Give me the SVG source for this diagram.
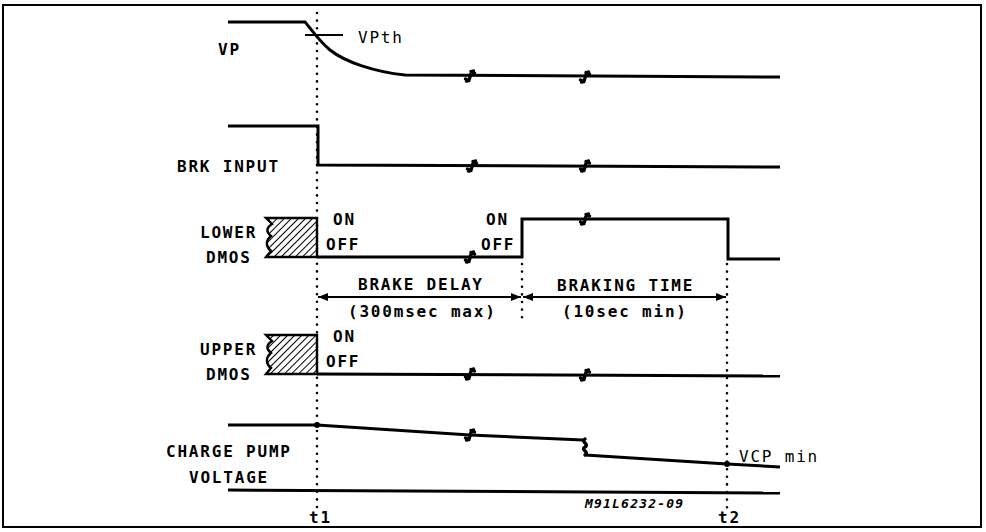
<svg xmlns="http://www.w3.org/2000/svg" width="986" height="532" viewBox="0 0 986 532">
<style>
.sig{fill:none;stroke:#000;stroke-width:3;stroke-linejoin:miter}
.thin{fill:none;stroke:#000;stroke-width:2}
.dot{fill:none;stroke:#000;stroke-width:2.6;stroke-linecap:round;stroke-dasharray:0 7.6}
.lbl{font-family:"DejaVu Sans Mono","Liberation Mono",monospace;font-size:16px;font-weight:bold;letter-spacing:1.8px;fill:#000}
.reg{font-weight:normal}
.code{font-family:"DejaVu Sans Mono","Liberation Mono",monospace;font-size:13px;font-weight:bold;font-style:italic;letter-spacing:1.2px;fill:#000}
.brk{fill:none;stroke:#000;stroke-width:3.4;stroke-linecap:round}
.hatch{fill:url(#hp);stroke:#000;stroke-width:2.4}
</style>
<defs>
<pattern id="hp" patternUnits="userSpaceOnUse" width="5" height="5" patternTransform="rotate(45)">
<line x1="0" y1="0" x2="0" y2="5" stroke="#000" stroke-width="2"/>
</pattern>
<path id="bm" d="M-3.5,5 Q-1,5.5 0,1 Q1,-4.5 3.5,-5 M-4.5,3 L-1,4.5 M1,-4.5 L4.5,-3"/>
<marker id="ar" viewBox="0 0 10 8" refX="10" refY="4" markerWidth="10" markerHeight="8" markerUnits="userSpaceOnUse" orient="auto-start-reverse">
<path d="M0,0 L10,4 L0,8 Z" fill="#000"/>
</marker>
</defs>
<rect x="3" y="5" width="978" height="522" fill="#fff" stroke="#000" stroke-width="2"/>

<g id="connectors">
<line class="dot" x1="317" y1="13" x2="317" y2="508"/>
<line class="dot" x1="522" y1="264" x2="522" y2="322"/>
<line class="dot" x1="727" y1="264" x2="727" y2="508"/>
<line class="thin" x1="318" y1="297" x2="521" y2="297" marker-start="url(#ar)" marker-end="url(#ar)"/>
<line class="thin" x1="523" y1="297" x2="726" y2="297" marker-start="url(#ar)" marker-end="url(#ar)"/>
</g>

<g id="vp">
<path class="sig" d="M228,22 L305,22 C312,30 318,40 330,50 C345,62 375,72 405,75 L780,77"/>
<line class="thin" x1="305" y1="35" x2="343" y2="35"/>
<text class="lbl" x="218" y="55">VP</text>
<text class="lbl reg" x="358" y="43" letter-spacing="0.5">VPth</text>
<use href="#bm" x="470" y="76" class="brk"/>
<use href="#bm" x="585" y="77" class="brk"/>
</g>

<g id="brk-input">
<path class="sig" d="M228,126 L318,126 L318,165 L780,167"/>
<text class="lbl" x="177" y="172">BRK INPUT</text>
<use href="#bm" x="472" y="166" class="brk"/>
<use href="#bm" x="585" y="166" class="brk"/>
</g>

<g id="lower-dmos">
<path class="hatch" d="M317,218 L266,218 L272,224 C266,228 266,232 271,236 C265,241 266,247 271,251 L266,257 L317,257 Z"/>
<path class="sig" d="M317,257 L522,257 L522,219 L728,219 L728,259 L780,259"/>
<text class="lbl" x="200" y="238">LOWER</text>
<text class="lbl" x="206" y="263">DMOS</text>
<text class="lbl" x="333" y="225">ON</text>
<text class="lbl" x="326" y="250">OFF</text>
<text class="lbl" x="486" y="225">ON</text>
<text class="lbl" x="481" y="250">OFF</text>
<use href="#bm" x="470" y="257" class="brk"/>
<use href="#bm" x="585" y="219" class="brk"/>
</g>

<g id="brake-delay">
<text class="lbl" x="358" y="290">BRAKE DELAY</text>
<text class="lbl" x="348" y="317">(300msec max)</text>
</g>

<g id="braking-time">
<text class="lbl" x="557" y="291">BRAKING TIME</text>
<text class="lbl" x="562" y="317">(10sec min)</text>
</g>

<g id="upper-dmos">
<path class="hatch" d="M317,335 L266,335 L272,341 C266,345 266,349 271,353 C265,358 266,364 271,368 L266,374 L317,374 Z"/>
<path class="sig" d="M317,374 L780,376"/>
<text class="lbl" x="200" y="355">UPPER</text>
<text class="lbl" x="206" y="380">DMOS</text>
<text class="lbl" x="333" y="342">ON</text>
<text class="lbl" x="326" y="367">OFF</text>
<use href="#bm" x="470" y="374" class="brk"/>
<use href="#bm" x="585" y="375" class="brk"/>
</g>

<g id="charge-pump">
<path class="sig" d="M228,425 L317,425 L470,435 L583,440"/>
<path class="sig" d="M585,455 L727,464 L780,467"/>
<path class="brk" d="M585,439 C580,442 590,444 585,447 C580,450 590,452 585,455"/>
<path class="sig" d="M228,490 L780,493"/>
<circle cx="317" cy="425" r="3" fill="#000"/>
<circle cx="727" cy="464" r="3" fill="#000"/>
<use href="#bm" x="470" y="435" class="brk"/>
<text class="lbl" x="166" y="457">CHARGE PUMP</text>
<text class="lbl" x="189" y="483">VOLTAGE</text>
<text class="lbl reg" x="739" y="462">VCP min</text>
</g>

<g id="axis-labels">
<text class="lbl" x="309" y="523">t1</text>
<text class="lbl" x="718" y="523">t2</text>
<text class="code" x="585" y="508">M91L6232-09</text>
</g>
</svg>
